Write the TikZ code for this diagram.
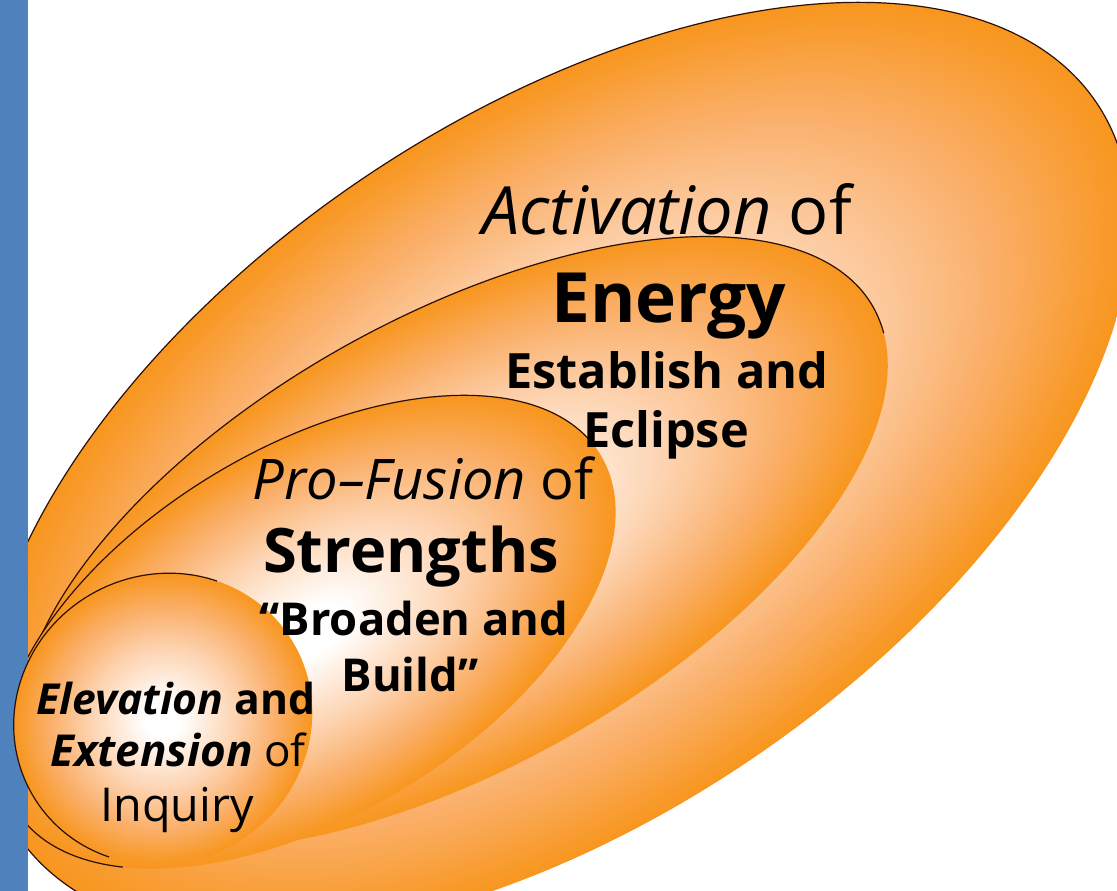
\documentclass[tikz,border=0pt]{standalone}
\usepackage{fontspec}
\setmainfont{Open Sans}
\definecolor{barblue}{RGB}{79,129,189}
\definecolor{eggorange}{RGB}{248,150,30}
\definecolor{eggmid}{RGB}{250,175,105}
\definecolor{eggpeach}{RGB}{253,212,178}
\definecolor{eggrimcol}{RGB}{45,15,5}
% soft glow: white core fading to orange at the rim of the shape
\pgfdeclareradialshading{eggglow}{\pgfpoint{0bp}{0bp}}{%
  color(0bp)=(white); color(3bp)=(white); color(12bp)=(eggpeach);
  color(19bp)=(eggmid); color(25bp)=(eggorange); color(50bp)=(eggorange)}
\tikzset{
  eggfill/.style={shading=eggglow},
  eggrim/.style={draw=eggrimcol, line width=0.9pt},
  lbl/.style={anchor=base, inner sep=0pt, text=black},
}
% #1 centre, #2 angle, #3 x radius, #4 y radius, #5 rim start, #6 rim end
\newcommand\drawegg[6]{%
  \begin{scope}[transform canvas={shift={#1},rotate=#2}]
    \shade[eggfill] (0,0) ellipse [x radius=#3, y radius=#4];
    \draw[eggrim] (#5:#3 and #4) arc [start angle=#5, end angle=#6, x radius=#3, y radius=#4];
  \end{scope}}
\begin{document}
\begin{tikzpicture}[x=0.75pt,y=-0.75pt]
\useasboundingbox (0,0) rectangle (1117,891);
\fill[white] (0,0) rectangle (1117,891);
\fill[barblue] (0,0) rectangle (28,891);

% three nested eggs, kept to the right of the side bar
\begin{scope}
  \clip (28,0) rectangle (1117,891);
  \drawegg{(557,469)}{34.2}{489pt}{262pt}{-10}{238}
  \drawegg{(454,543)}{29.3}{360.75pt}{168.75pt}{-7}{215}
  \drawegg{(308,632)}{31.2}{256.5pt}{137.6pt}{4}{215}
\end{scope}
% the innermost egg overlaps the bar
\begin{scope}
  \clip (0,0) rectangle (1117,891);
  \drawegg{(163,719)}{30}{113.25pt}{108pt}{40}{220}
\end{scope}

% labels
\node[lbl, font=\fontsize{50}{60}\selectfont] (act) at (667,235) {\textit{Activation} of};
\node[lbl, font=\fontsize{52}{62}\selectfont\bfseries] (energy) at (669,322) {Energy};
\node[lbl, font=\fontsize{36.5}{44}\selectfont\bfseries] (estab) at (667,388) {Establish and};
\node[lbl, font=\fontsize{36.5}{44}\selectfont\bfseries] (eclipse) at (666,447) {Eclipse};

\node[lbl, font=\fontsize{42}{50}\selectfont] (pro) at (423,499) {\textit{Pro–Fusion} of};
\node[lbl, font=\fontsize{46}{55}\selectfont\bfseries] (strengths) at (411,572) {Strengths};
\node[lbl, font=\fontsize{34}{41}\selectfont\bfseries] (broaden) at (414,635) {“Broaden and};
\node[lbl, font=\fontsize{34}{41}\selectfont\bfseries] (build) at (410,691) {Build”};

\node[lbl, font=\fontsize{32}{39}\selectfont] (elev) at (176,714) {\textbf{\textit{Elevation} and}};
\node[lbl, font=\fontsize{33}{40}\selectfont] (ext) at (178,766) {\textbf{\textit{Extension}} of};
\node[lbl, font=\fontsize{35}{42}\selectfont] (inq) at (177,821) {Inquiry};
\end{tikzpicture}
\end{document}
